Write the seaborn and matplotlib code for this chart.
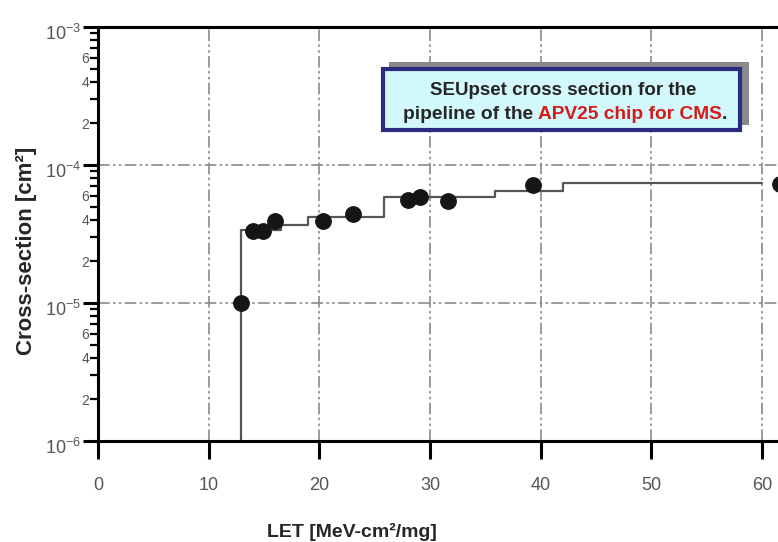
import pandas as pd
import seaborn as sns
import matplotlib.pyplot as plt
from matplotlib.patches import Rectangle
from matplotlib.transforms import ScaledTranslation

# measured SEU cross sections
let_pts = [12.9, 14.0, 14.9, 16.0, 20.3, 23.0, 28.0, 29.1, 31.6, 39.3, 61.6]
xs_pts = [1.0e-5, 3.3e-5, 3.3e-5, 3.9e-5, 3.9e-5, 4.4e-5, 5.6e-5, 5.9e-5, 5.5e-5, 7.2e-5, 7.3e-5]

# fitted curve, drawn as a staircase
fit_let = [12.9, 12.9, 16.5, 19.0, 25.8, 35.9, 42.0, 60.0]
fit_xs = [1e-6, 3.4e-5, 3.7e-5, 4.2e-5, 5.85e-5, 6.5e-5, 7.4e-5, 7.4e-5]

x_ticks = [0, 10, 20, 30, 40, 50, 60]
y_major = [1e-6, 1e-5, 1e-4, 1e-3]
y_major_labels = [r'$\mathregular{10^{-6}}$', r'$\mathregular{10^{-5}}$',
                  r'$\mathregular{10^{-4}}$', r'$\mathregular{10^{-3}}$']
minor_mult = [2, 3, 4, 5, 6, 7, 8, 9]
minor_text = ['2', '', '4', '', '6', '', '', '']

df_pts = pd.DataFrame({'LET': let_pts, 'xs': xs_pts})
df_fit = pd.DataFrame({'LET': fit_let, 'xs': fit_xs})

sns.set_style('white')
plt.rcParams['font.family'] = ['Liberation Sans', 'DejaVu Sans']
plt.rcParams['mathtext.fontset'] = 'custom'
plt.rcParams['mathtext.rm'] = 'Liberation Sans'

fig = plt.figure(figsize=(7.78, 5.42), dpi=100)
ax = fig.add_axes([0.126, 0.1863, 0.874, 0.7639])

sns.lineplot(data=df_fit, x='LET', y='xs', ax=ax, sort=False, estimator=None,
             drawstyle='steps-post', color='#555555', lw=1.6, zorder=2)
sns.scatterplot(data=df_pts, x='LET', y='xs', ax=ax, s=125, color='#151515',
                edgecolor='#151515', zorder=3)

ax.set_yscale('log')
ax.set_xlim(0, 61.45)
ax.set_ylim(1e-6, 1e-3)
ax.set_xticks(x_ticks)
ax.set_yticks(y_major, labels=y_major_labels)
minor_locs = [m * 10.0 ** e for e in (-6, -5, -4) for m in minor_mult]
ax.set_yticks(minor_locs, labels=minor_text * 3, minor=True)

ax.grid(which='major', axis='both', color='#8a8a8a', lw=1.2,
        ls=(0, (7, 2, 1.5, 2, 1.5, 2)))

for side in ['top', 'left', 'bottom']:
    ax.spines[side].set_color('black')
    ax.spines[side].set_linewidth(2.2)
ax.spines['right'].set_visible(False)

ax.tick_params(axis='x', which='major', bottom=True, direction='out', length=13,
               width=2.2, pad=13, labelsize=13, labelcolor='#555555', color='black')
ax.tick_params(axis='y', which='major', left=True, direction='out', length=11,
               width=2.2, pad=1.5, labelsize=13, labelcolor='#555555', color='black')
ax.tick_params(axis='y', which='minor', left=True, direction='out', length=6,
               width=1.6, pad=0.5, labelsize=10, labelcolor='#555555', color='black')

shift = ScaledTranslation(0, -0.05, fig.dpi_scale_trans)
for lbl in ax.get_yticklabels():
    lbl.set_transform(lbl.get_transform() + shift)

ax.set_xlabel('LET [MeV-cm²/mg]', fontsize=14, fontweight='bold')
ax.set_ylabel('Cross-section [cm²]', fontsize=16, fontweight='bold')
ax.xaxis.set_label_coords(0.374, -0.198)
ax.yaxis.set_label_coords(-0.09, 0.46)

# caption box with shadow (figure coordinates)
ft = fig.transFigure
ax.add_patch(Rectangle((0.500, 0.7694), 0.4627, 0.1162, transform=ft, clip_on=False,
                       facecolor='#8a8a8a', edgecolor='none', zorder=10))
ax.add_patch(Rectangle((0.4923, 0.7601), 0.4589, 0.1126, transform=ft, clip_on=False,
                       facecolor='#d2f8fb', edgecolor='#2b2b80', lw=3, zorder=11))
ax.text(0.7235, 0.833, 'SEUpset cross section for the', transform=ft, fontsize=13.5,
        fontweight='bold', ha='center', va='center', zorder=12)
t1 = ax.text(0.5175, 0.788, 'pipeline of the ', transform=ft, fontsize=13.8,
             fontweight='bold', ha='left', va='center', zorder=12)
t2 = ax.annotate('APV25 chip for CMS', xy=(1, 0), xycoords=t1, va='bottom', ha='left',
                 fontsize=13.8, fontweight='bold', color='#d41a1a', zorder=12,
                 annotation_clip=False)
ax.annotate('.', xy=(1, 0), xycoords=t2, va='bottom', ha='left', fontsize=13.8,
            fontweight='bold', zorder=12, annotation_clip=False)

fig.savefig('out.png', dpi=100)
